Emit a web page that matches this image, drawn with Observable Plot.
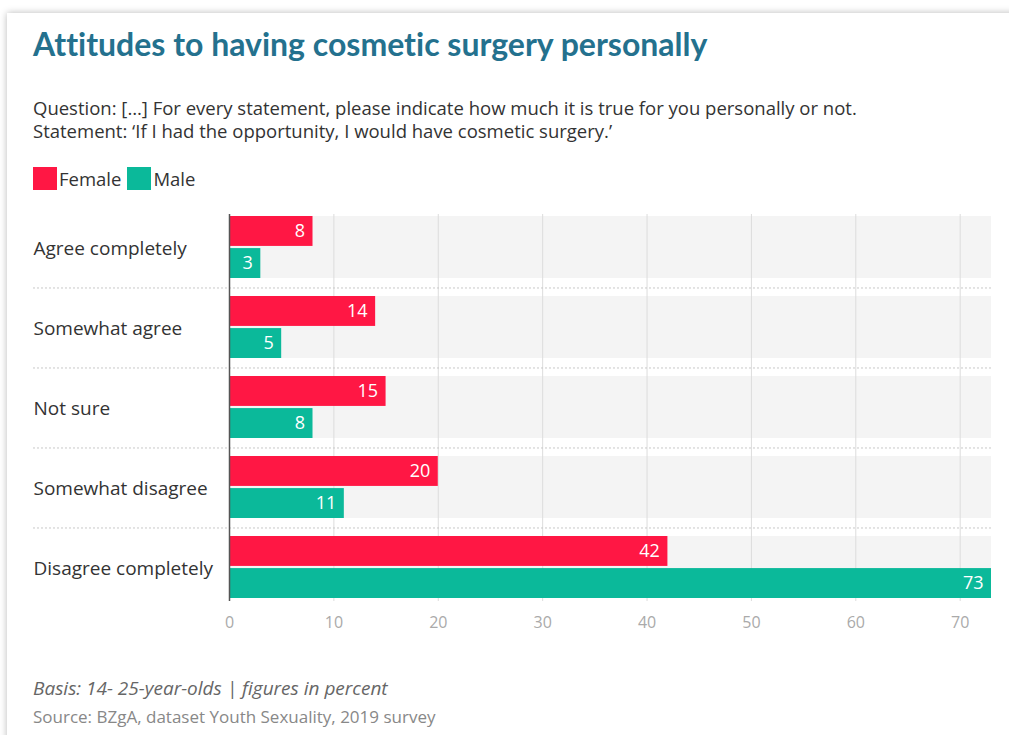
<!DOCTYPE html>
<html>
<head>
<meta charset="utf-8">
<script src="https://cdn.jsdelivr.net/npm/d3@7"></script>
<script src="https://cdn.jsdelivr.net/npm/@observablehq/plot@0.6"></script>
<style>
  html, body { margin: 0; padding: 0; background: #fff; width: 1009px; height: 735px; overflow: hidden; font-family: "Open Sans", Lato, sans-serif; }
  #card { position: absolute; left: 7px; top: 13px; width: 1100px; height: 800px; background: #fff; box-shadow: 0 0 7px rgba(0,0,0,0.28); }
  .abs { position: absolute; white-space: nowrap; }
  #title { left: 33px; top: 24px; font-family: Lato, sans-serif; font-size: 32px; font-weight: 700; color: #24718e; letter-spacing: 0px; font-variant-ligatures: none; }
  #sub1, #sub2 { left: 33px; font-size: 18.5px; color: #333; }
  #sub1 { top: 95px; }
  #sub2 { top: 118px; }
  #legend { left: 33px; top: 166px; display: flex; align-items: center; font-size: 18.5px; color: #333; }
  #legend .sw { display: inline-block; width: 24px; height: 23px; margin-right: 2px; }
  #legend .item { display: flex; align-items: center; margin-right: 6px; }
  #chart { left: 0; top: 205px; }
  #basis { left: 33px; top: 675px; font-size: 19px; font-style: italic; color: #666; }
  #source { left: 33px; top: 705px; font-size: 17px; color: #888; }
</style>
</head>
<body>
<div id="card"></div>
<div class="abs" id="title">Attitudes to having cosmetic surgery personally</div>
<div class="abs" id="sub1">Question: […] For every statement, please indicate how much it is true for you personally or not.</div>
<div class="abs" id="sub2">Statement: ‘If I had the opportunity, I would have cosmetic surgery.’</div>
<div class="abs" id="legend"></div>
<div class="abs" id="chart"></div>
<div class="abs" id="basis">Basis: 14- 25-year-olds | figures in percent</div>
<div class="abs" id="source">Source: BZgA, dataset Youth Sexuality, 2019 survey</div>
<script>
const categories = ["Agree completely", "Somewhat agree", "Not sure", "Somewhat disagree", "Disagree completely"];
const femaleValues = [8, 14, 15, 20, 42];
const maleValues = [3, 5, 8, 11, 73];
const seriesNames = ["Female", "Male"];
const seriesColors = ["#ff1744", "#0bb99a"];
const xTicks = [0, 10, 20, 30, 40, 50, 60, 70];

const female = categories.map((c, i) => ({category: c, value: femaleValues[i]}));
const male = categories.map((c, i) => ({category: c, value: maleValues[i]}));
const xMax = d3.max([...femaleValues, ...maleValues]);

// legend
const legend = document.getElementById("legend");
seriesNames.forEach((s, i) => {
  const item = document.createElement("span");
  item.className = "item";
  item.innerHTML = `<span class="sw" style="background:${seriesColors[i]}"></span>${s}`;
  legend.appendChild(item);
});

const width = 1009, height = 436;
const marginTop = 9, marginBottom = 40, marginLeft = 229, marginRight = 18;
const padInner = 0.22;
const n = categories.length;
const step = (height - marginTop - marginBottom) / (n - padInner);
const bw = step * (1 - padInner);
const half = bw / 2;

const chart = Plot.plot({
  width, height, marginTop, marginBottom, marginLeft, marginRight,
  style: {fontFamily: "'Open Sans', Lato, sans-serif", fontSize: "16px", background: "transparent"},
  x: {domain: [0, xMax], ticks: xTicks},
  y: {domain: categories, paddingInner: padInner, paddingOuter: 0, axis: null},
  marks: [
    Plot.barX(categories, {y: d => d, x1: 0, x2: xMax, fill: "#f4f4f4"}),
    Plot.ruleX(xTicks.slice(1), {stroke: "#dcdcdc", strokeWidth: 1}),
    Plot.ruleY(categories.slice(0, -1), {y: d => d, dy: step / 2, stroke: "#c8c8c8", strokeDasharray: "2,2", insetLeft: -196}),
    Plot.barX(female, {y: "category", x: "value", fill: seriesColors[0], insetBottom: half + 0.5}),
    Plot.barX(male, {y: "category", x: "value", fill: seriesColors[1], insetTop: half + 0.5}),
    Plot.text(female, {y: "category", x: "value", text: d => String(d.value), dy: -bw / 4, dx: -8, textAnchor: "end", fill: "white", fontSize: 18}),
    Plot.text(male, {y: "category", x: "value", text: d => String(d.value), dy: bw / 4, dx: -8, textAnchor: "end", fill: "white", fontSize: 18}),
    Plot.ruleX([0], {stroke: "#555", strokeWidth: 1.5}),
    Plot.text(categories, {y: d => d, frameAnchor: "left", dx: -196, dy: 1, textAnchor: "start", fill: "#333", fontSize: 19}),
    Plot.axisX({ticks: xTicks, tickSize: 0, tickPadding: 15, color: "#aaa", fontSize: 16, label: null})
  ]
});
document.getElementById("chart").appendChild(chart);
</script>
</body>
</html>
